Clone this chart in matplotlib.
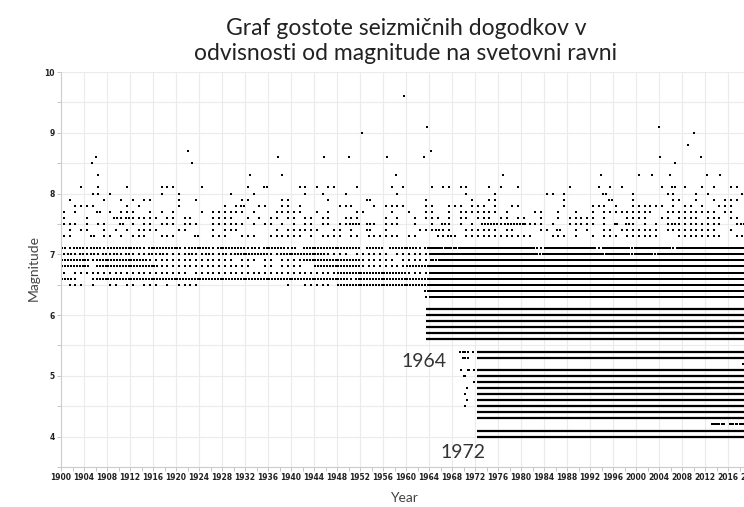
import numpy as np
import matplotlib.pyplot as plt
from matplotlib.ticker import MultipleLocator

# Rows of events per magnitude: one character per year (1900-2019),
# the digit is the number of events for that year
first_year = 1900
row_mags = [8.1, 8.0, 7.9, 7.8, 7.7, 7.6, 7.5, 7.4, 7.3,
            7.1, 7.0, 6.9, 6.8, 6.7, 6.6, 6.5, 6.4, 6.3]
row_patterns = [
    "...1..1... .1.....111 ....1..... ..1..2.... .11.1.11.. .1.....1.1 ....1.11.1 1...1.1..1 ........1. ...1.1.1.. ....1.2.1. .1.1..11..",
    ".....11.1. .......1.. 1........1 ...1...... ..1..1...1 ........1. .......... 1....1.... ....11.1.. ....2....1 .....11... 1.1.....1.",
    ".1.....1.. 1.1.11.... 1..1...... .11.....11 ......1... ...2...... ...1...... .1..11.... .......1.. .....2...1 ......11.. 1..1.111..",
    "..1111.... .1.1...... 1.......1. 12..11..11 .1......11 1...1.1111 ...11..111 .111.1..11 .......1.. ..111.1..1 11111.1.11 .1..111...",
    "1.1...2.1. 111..1.1.1 ....1.1111 11.1...111 11..1.1... .11....1.. 1..11..1.1 111111.1.. ..11..1..1 ..1.111111 111..11111 1111.11...",
    "1...1....2 1211111.11 .11...1111 ..1.1.11.1 1.11.11..1 11....1.1. .1.111.1.1 1.111.11.1 1..1..1.11 111.1...11 11..11.111 1.111.11..",
    "111.1.11.. 2.1.11.111 .111..1111 11.1.11.1. 1.11.11.11 22.21.111. .1..1.21.1 .1.2221222 2111.1..11 111.1.2.21 .1.1.12111 11111..12.",
    ".1.11..1.1 .1.1111... 11....1.11 1......1.1 11111..11. 1..2..1... ..111211.. 111111.11. ...11.2..1 .1..11.111 1111.11111 1111..1...",
    "11...2.11. 1.111..111 ...2..111. .111..1111 11.1.1111. 11.111111. 11...1121. 1111111111 11...111.1 ..1.111.11 1111...111 11111..11.",
    "2122122122 2222122222 2122221222 2212122221 2022222222 2202220222 2212332323 3333333333 3321333333 3331333332 3333331333 3333333333",
    "1212121212 1211121211 1121121121 2222221122 2222221111 0111111011 1111333333 3333333333 3332333333 3333233332 3332333333 3333333333",
    "2222212222 2222211111 1111111111 0111011011 1122222222 2211111101 1111224444 4444444444 4444444444 4444444444 4444444444 4444444444",
    "2222202222 2222222111 1111111111 1110011011 1100222222 2211111111 2222444444 4444444444 4444444444 4444444444 4444444444 4444444444",
    "1011111111 1111111111 1101111111 1111111111 1111111122 2222222222 1111444444 4444444444 4444444444 4444444444 4444444444 4444444444",
    "2210012222 2222222222 2222222222 2222222222 2222222222 1222222222 2222444444 4444444444 4444444444 4444444444 4444444444 4444444444",
    ".111.1..11 .11.111.1. 1111...... .........1 ..11111.22 2222222222 2222444444 4444444444 4444444444 4444444444 4444444444 4444444444",
    ".......... .......... .......... .......... .......... .......... ...2444444 4444444444 4444444444 4444444444 4444444444 4444444444",
    ".......... .......... .......... .......... .......... .......... ...1444444 4444444444 4444444444 4444444444 4444444444 4444444444",
]

# Largest events (single points)
big_years = [1905.4, 1906.0, 1906.5, 1922.0, 1922.8, 1932.8, 1937.7, 1938.4, 1945.8, 1950.1,
             1952.3, 1956.6, 1958.3, 1959.7, 1963.1, 1963.6, 1964.4, 1976.8, 1993.9, 2000.5,
             2002.7, 2004.0, 2004.2, 2005.9, 2006.7, 2009.1, 2010.1, 2011.2, 2012.3, 2014.6]
big_mags = [8.5, 8.6, 8.3, 8.7, 8.5, 8.3, 8.6, 8.3, 8.6, 8.6,
            9.0, 8.6, 8.3, 9.6, 8.6, 9.1, 8.7, 8.3, 8.3, 8.3,
            8.3, 9.1, 8.6, 8.3, 8.5, 8.8, 9.0, 8.6, 8.3, 8.3]

# Continuous recording of small magnitudes (from 1964 and 1972 on)
band_mags = [6.1, 6.0, 5.9, 5.8, 5.7, 5.6, 5.4, 5.3, 5.1, 5.0, 4.9, 4.8, 4.7, 4.6, 4.5, 4.4, 4.3, 4.1, 4.0]
band_start = [1963.4, 1963.4, 1963.4, 1963.4, 1963.4, 1963.4, 1972.3, 1972.3, 1972.3, 1972.3,
              1972.3, 1972.3, 1972.3, 1972.3, 1972.3, 1972.3, 1972.3, 1972.3, 1972.3]
band_end = [2019.6] * len(band_mags)

# Scattered small events before 1972 and the sparse 4.2 / 5.2 rows at the end
extra_years = [1969.4, 1969.9, 1970.3, 1970.8, 1971.7, 1969.9, 1970.3, 1970.8,
               1969.5, 1970.7, 1971.0, 1971.9, 1970.0, 1970.3, 1971.9, 1970.6,
               1970.2, 1970.6, 1970.2,
               2013.2, 2013.5, 2013.8, 2014.1, 2014.5, 2014.9, 2015.2,
               2016.3, 2016.6, 2016.9, 2017.3, 2017.6, 2018.0, 2018.3, 2018.6, 2018.6]
extra_mags = [5.4, 5.4, 5.4, 5.4, 5.4, 5.3, 5.3, 5.3,
              5.1, 5.1, 5.1, 5.1, 5.0, 5.0, 4.9, 4.8,
              4.7, 4.6, 4.5,
              4.2, 4.2, 4.2, 4.2, 4.2, 4.2, 4.2,
              4.2, 4.2, 4.2, 4.2, 4.2, 4.2, 4.2, 4.2, 5.2]

x_ticks = list(range(1900, 2021, 4))
y_ticks = [4, 5, 6, 7, 8, 9, 10]

# expand the row patterns into points
pts_x, pts_y = [], []
for mag, pat in zip(row_mags, row_patterns):
    pat = pat.replace(" ", "")
    for i, ch in enumerate(pat):
        if ch.isdigit() and int(ch) > 0:
            n = int(ch)
            for k in range(n):
                pts_x.append(first_year + i + (k + 0.5) / n)
                pts_y.append(mag)

fig = plt.figure(figsize=(7.44, 5.07), dpi=100)
ax = fig.add_axes([61 / 744, 40 / 507, 693 / 744, 395 / 507])

ax.hlines(band_mags, band_start, band_end, colors="black", linewidth=1.6)
ax.scatter(pts_x, pts_y, s=2.4, marker="s", color="black", linewidths=0)
ax.scatter(big_years, big_mags, s=2.4, marker="s", color="black", linewidths=0)
ax.scatter(extra_years, extra_mags, s=2.4, marker="s", color="black", linewidths=0)

ax.set_xlim(1900, 2020.5)
ax.set_ylim(3.5, 10)
ax.set_xticks(x_ticks)
ax.set_yticks(y_ticks)
ax.xaxis.set_minor_locator(MultipleLocator(2))
ax.yaxis.set_minor_locator(MultipleLocator(0.5))
ax.grid(True, which="major", color="#ebebeb", linewidth=0.8)
ax.grid(True, which="minor", axis="y", color="#ebebeb", linewidth=0.8)
ax.set_axisbelow(True)

tick_font = dict(family=["Liberation Sans Narrow", "DejaVu Sans"], weight="bold", size=5.5)
ax.set_xticklabels([str(t) for t in x_ticks], fontdict=tick_font, color="#222222")
ax.set_yticklabels([str(t) for t in y_ticks], fontdict=tick_font, color="#222222")
ax.tick_params(which="both", length=3, width=0.6, color="#bbbbbb", pad=1.5)

for side in ["top", "right"]:
    ax.spines[side].set_visible(False)
for side in ["left", "bottom"]:
    ax.spines[side].set_color("#cccccc")
    ax.spines[side].set_linewidth(0.8)

ax.set_xlabel("Year", family="Lato", size=10, color="#444444", va="center")
ax.set_ylabel("Magnitude", family="Lato", size=10, color="#444444", va="center")
ax.xaxis.set_label_coords(0.495, -0.078)
ax.yaxis.set_label_coords(-0.040, 0.504)

ax.text(1967.1, 5.23, "1964", ha="right", va="center", family="Lato", size=14, color="#333333")
ax.text(1973.8, 3.74, "1972", ha="right", va="center", family="Lato", size=14, color="#333333")

fig.text(406 / 744, 1 - 41 / 507,
         "Graf gostote seizmičnih dogodkov v\nodvisnosti od magnitude na svetovni ravni",
         ha="center", va="center", family="Lato", size=16.5, color="#222222",
         linespacing=1.25)

fig.savefig("out.png", dpi=100)
